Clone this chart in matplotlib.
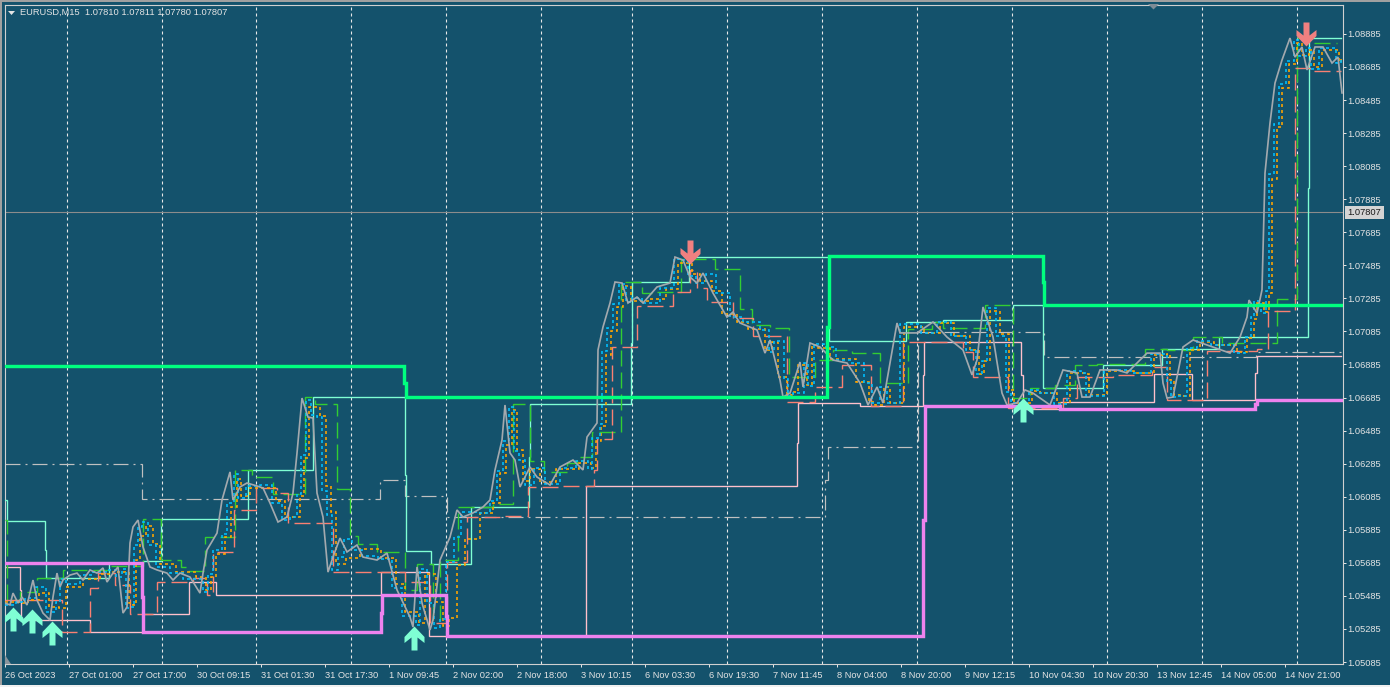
import matplotlib
matplotlib.use("Agg")
import matplotlib.pyplot as plt
from matplotlib.path import Path
from matplotlib.patches import Rectangle, Polygon

plt.rcParams['lines.scale_dashes'] = False
plt.rcParams['font.family'] = ['Liberation Sans', 'DejaVu Sans']

BG = '#14526C'
FG = '#E4E4E4'

time_labels = ['26 Oct 2023', '27 Oct 01:00', '27 Oct 17:00', '30 Oct 09:15', '31 Oct 01:30', '31 Oct 17:30',
               '1 Nov 09:45', '2 Nov 02:00', '2 Nov 18:00', '3 Nov 10:15', '6 Nov 03:30', '6 Nov 19:30',
               '7 Nov 11:45', '8 Nov 04:00', '8 Nov 20:00', '9 Nov 12:15', '10 Nov 04:30', '10 Nov 20:30',
               '13 Nov 12:45', '14 Nov 05:00', '14 Nov 21:00']
time_bars = [5, 69, 133, 197, 261, 325, 389, 453, 517, 581, 645, 709, 773, 837, 901, 965, 1029, 1093, 1157, 1221, 1285]
price_ticks = [1.08885, 1.08685, 1.08485, 1.08285, 1.08085, 1.07885, 1.07685, 1.07485, 1.07285, 1.07085,
               1.06885, 1.06685, 1.06485, 1.06285, 1.06085, 1.05885, 1.05685, 1.05485, 1.05285, 1.05085]
session_bars = [67, 162, 256, 351, 445.5, 540.5, 632, 727, 822, 917, 1012, 1107, 1202, 1297]
bid_price = 1.07807

close_x = [5, 10, 13, 18, 22, 27, 33, 37, 43, 50, 53, 57, 60, 63, 70, 77, 83, 90, 97, 103, 107, 113, 118, 123, 127,
           130, 133, 138, 143, 150, 157, 167, 173, 180, 190, 200, 203, 207, 217, 222, 230, 233, 240, 247, 257, 263,
           270, 278, 287, 293, 297, 302, 308, 313, 317, 323, 328, 333, 340, 347, 357, 363, 377, 387, 397, 410, 413,
           417, 422, 430, 433, 440, 450, 457, 463, 473, 483, 490, 495, 502, 505, 510, 515, 520, 530, 537, 550, 560,
           573, 583, 587, 597, 598, 603, 610, 615, 622, 628, 637, 643, 657, 670, 675, 683, 690, 697, 703, 713, 727,
           733, 740, 757, 765, 770, 780, 783, 790, 800, 803, 810, 820, 833, 847, 860, 868, 877, 883, 897, 900, 917,
           933, 947, 963, 972, 977, 983, 993, 1002, 1007, 1017, 1025, 1033, 1050, 1063, 1077, 1082, 1090, 1100, 1117,
           1127, 1147, 1160, 1163, 1167, 1173, 1183, 1193, 1207, 1230, 1240, 1247, 1249, 1257, 1262, 1265, 1270, 1275,
           1282, 1290, 1295, 1302, 1307, 1315, 1323, 1332, 1338, 1342]
close_y = [1.05442, 1.05430, 1.05502, 1.05442, 1.05478, 1.05430, 1.05581, 1.05460, 1.05381, 1.05339, 1.05478, 1.05623,
           1.05539, 1.05581, 1.05611, 1.05623, 1.05581, 1.05642, 1.05623, 1.05654, 1.05569, 1.05623, 1.05660, 1.05381,
           1.05418, 1.05805, 1.05902, 1.05944, 1.05781, 1.05660, 1.05642, 1.05623, 1.05581, 1.05623, 1.05599, 1.05502,
           1.05623, 1.05763, 1.05865, 1.06065, 1.06235, 1.06065, 1.06144, 1.06168, 1.06150, 1.06138, 1.06047, 1.05932,
           1.05962, 1.06107, 1.06349, 1.06682, 1.06567, 1.06561, 1.06107, 1.05962, 1.05629, 1.05720, 1.05835, 1.05751,
           1.05793, 1.05720, 1.05702, 1.05744, 1.05521, 1.05357, 1.05297, 1.05660, 1.05442, 1.05279, 1.05339, 1.05702,
           1.05841, 1.06005, 1.05962, 1.05987, 1.06023, 1.06065, 1.06247, 1.06428, 1.06640, 1.06350, 1.06307, 1.06144,
           1.06265, 1.06204, 1.06156, 1.06265, 1.06307, 1.06247, 1.06446, 1.06531, 1.06973, 1.07112, 1.07257, 1.07384,
           1.07378, 1.07257, 1.07293, 1.07257, 1.07354, 1.07378, 1.07535, 1.07517, 1.07414, 1.07378, 1.07438, 1.07317,
           1.07172, 1.07202, 1.07136, 1.07094, 1.06954, 1.07033, 1.06791, 1.06688, 1.06712, 1.06900, 1.06749, 1.07015,
           1.06991, 1.06912, 1.06894, 1.06773, 1.06640, 1.06749, 1.06652, 1.07136, 1.07076, 1.07076, 1.07142, 1.07051,
           1.06973, 1.06822, 1.06912, 1.07233, 1.07051, 1.06712, 1.06640, 1.06652, 1.06731, 1.06712, 1.06640, 1.06852,
           1.06834, 1.06688, 1.06688, 1.06852, 1.06852, 1.06834, 1.06954, 1.06954, 1.06773, 1.06682, 1.06688, 1.06991,
           1.07033, 1.07003, 1.06954, 1.07051, 1.07172, 1.07275, 1.07196, 1.07336, 1.08043, 1.08346, 1.08588, 1.08727,
           1.08860, 1.08745, 1.08806, 1.08667, 1.08806, 1.08806, 1.08709, 1.08745, 1.08528]

fast_x = [5, 16, 25, 36, 46, 56, 60, 66, 80, 93, 106, 116, 122, 126, 130, 134, 138, 142, 148, 156, 170, 183, 194, 203,
          208, 213, 222, 227, 234, 238, 246, 260, 272, 282, 290, 297, 301, 306, 311, 317, 322, 327, 332, 338, 344, 352,
          362, 378, 392, 402, 416, 420, 427, 434, 440, 446, 454, 461, 476, 490, 497, 503, 509, 514, 519, 525, 534, 545,
          560, 576, 588, 592, 600, 602, 607, 613, 619, 626, 632, 642, 660, 674, 679, 688, 696, 706, 716, 730, 743, 760,
          769, 774, 784, 788, 793, 804, 808, 814, 824, 836, 851, 864, 872, 880, 887, 900, 921, 937, 951, 966, 976, 982,
          987, 996, 1006, 1011, 1021, 1029, 1038, 1054, 1067, 1081, 1086, 1094, 1104, 1121, 1131, 1151, 1165, 1167, 1171,
          1177, 1187, 1197, 1211, 1234, 1245, 1251, 1254, 1261, 1266, 1269, 1274, 1279, 1286, 1294, 1299, 1306, 1311, 1319,
          1327, 1336, 1341]
fast_y = [1.05430, 1.05450, 1.05475, 1.05540, 1.05385, 1.05450, 1.05590, 1.05560, 1.05610, 1.05630, 1.05640, 1.05600, 1.05650,
          1.05410, 1.05420, 1.05790, 1.05900, 1.05930, 1.05790, 1.05660, 1.05625, 1.05590, 1.05590, 1.05510, 1.05620, 1.05760,
          1.05860, 1.06050, 1.06225, 1.06080, 1.06150, 1.06155, 1.06050, 1.05945, 1.05965, 1.06100, 1.06340, 1.06670, 1.06580,
          1.06570, 1.06120, 1.05975, 1.05640, 1.05720, 1.05830, 1.05765, 1.05725, 1.05710, 1.05535, 1.05365, 1.05310, 1.05650,
          1.05445, 1.05290, 1.05345, 1.05690, 1.05840, 1.05990, 1.05985, 1.06060, 1.06240, 1.06420, 1.06630, 1.06360, 1.06310,
          1.06155, 1.06260, 1.06165, 1.06260, 1.06300, 1.06250, 1.06440, 1.06525, 1.06965, 1.07105, 1.07250, 1.07375, 1.07265,
          1.07290, 1.07260, 1.07350, 1.07525, 1.07515, 1.07420, 1.07380, 1.07435, 1.07320, 1.07175, 1.07140, 1.07095, 1.06960,
          1.07030, 1.06795, 1.06695, 1.06715, 1.06895, 1.06755, 1.07010, 1.06990, 1.06915, 1.06895, 1.06775, 1.06650, 1.06750,
          1.06655, 1.07130, 1.07075, 1.07140, 1.07055, 1.06975, 1.06825, 1.06905, 1.07225, 1.07060, 1.06720, 1.06650, 1.06655,
          1.06730, 1.06715, 1.06645, 1.06845, 1.06835, 1.06695, 1.06695, 1.06850, 1.06850, 1.06835, 1.06950, 1.06950, 1.06780,
          1.06690, 1.06695, 1.06985, 1.07030, 1.07005, 1.06955, 1.07050, 1.07170, 1.07270, 1.07195, 1.07330, 1.08035, 1.08340,
          1.08580, 1.08720, 1.08850, 1.08750, 1.08800, 1.08675, 1.08800, 1.08800, 1.08710, 1.08740]

slow_x = [5, 19, 28, 39, 49, 59, 66, 83, 100, 113, 125, 129, 133, 136, 140, 146, 153, 160, 176, 196, 206, 211, 216, 225,
          231, 237, 241, 250, 266, 276, 285, 293, 300, 304, 309, 320, 326, 331, 336, 346, 360, 381, 396, 405, 419, 425,
          436, 443, 449, 457, 465, 480, 493, 500, 506, 512, 517, 523, 530, 540, 556, 579, 591, 596, 601, 606, 611, 617,
          623, 631, 650, 666, 678, 684, 692, 700, 712, 722, 737, 748, 765, 772, 778, 787, 792, 798, 807, 812, 818, 830,
          856, 869, 875, 884, 890, 904, 924, 940, 954, 970, 979, 984, 990, 1000, 1009, 1014, 1024, 1032, 1040, 1057, 1070,
          1084, 1089, 1097, 1107, 1124, 1134, 1154, 1167, 1170, 1174, 1180, 1190, 1200, 1214, 1237, 1247, 1254, 1257, 1264,
          1269, 1272, 1277, 1282, 1289, 1297, 1302, 1309, 1314, 1322, 1330, 1339, 1341]
slow_y = [1.05450, 1.05440, 1.05460, 1.05500, 1.05420, 1.05410, 1.05540, 1.05590, 1.05620, 1.05630, 1.05630, 1.05440, 1.05430,
          1.05700, 1.05850, 1.05910, 1.05800, 1.05680, 1.05630, 1.05600, 1.05520, 1.05600, 1.05740, 1.05840, 1.06020, 1.06190,
          1.06090, 1.06140, 1.06140, 1.06060, 1.05960, 1.05960, 1.06090, 1.06320, 1.06630, 1.06575, 1.06150, 1.05990, 1.05680,
          1.05715, 1.05770, 1.05715, 1.05560, 1.05390, 1.05320, 1.05620, 1.05450, 1.05300, 1.05350, 1.05670, 1.05830, 1.05985,
          1.06050, 1.06230, 1.06400, 1.06610, 1.06370, 1.06180, 1.06250, 1.06175, 1.06250, 1.06290, 1.06260, 1.06420, 1.06510,
          1.06940, 1.07090, 1.07230, 1.07360, 1.07270, 1.07280, 1.07340, 1.07500, 1.07500, 1.07430, 1.07390, 1.07330, 1.07190,
          1.07145, 1.07100, 1.06970, 1.07020, 1.06810, 1.06700, 1.06720, 1.06880, 1.06760, 1.07000, 1.06985, 1.06920, 1.06780,
          1.06660, 1.06640, 1.06749, 1.06652, 1.07110, 1.07075, 1.07135, 1.07060, 1.06975, 1.06830, 1.06905, 1.07210, 1.07070,
          1.06730, 1.06655, 1.06655, 1.06725, 1.06710, 1.06650, 1.06835, 1.06830, 1.06700, 1.06700, 1.06845, 1.06845, 1.06835,
          1.06945, 1.06950, 1.06790, 1.06700, 1.06695, 1.06975, 1.07020, 1.07005, 1.06960, 1.07045, 1.07160, 1.07260, 1.07200,
          1.07320, 1.08010, 1.08320, 1.08560, 1.08700, 1.08830, 1.08755, 1.08790, 1.08685, 1.08790, 1.08790, 1.08715, 1.08735]

upper_x = [5, 7, 20, 37, 63, 110, 143, 161, 181, 187, 205, 235, 252, 273, 305, 315, 337, 350, 358, 377, 405, 417, 433, 440,
           458, 493, 513, 530, 544, 567, 577, 592, 621, 642, 657, 681, 715, 740, 752, 770, 789, 815, 833, 852, 880, 908,
           932, 943, 985, 1013, 1030, 1055, 1075, 1097, 1145, 1167, 1193, 1222, 1277, 1297, 1313, 1337]
upper_y = [1.05944, 1.05460, 1.05508, 1.05593, 1.05642, 1.05666, 1.05950, 1.05702, 1.05660, 1.05636, 1.05841, 1.06247,
           1.06204, 1.06101, 1.06688, 1.06646, 1.06132, 1.05847, 1.05799, 1.05751, 1.05521, 1.05678, 1.05339, 1.05702,
           1.06023, 1.06041, 1.06646, 1.06301, 1.06235, 1.06289, 1.06325, 1.06476, 1.07384, 1.07317, 1.07323, 1.07523,
           1.07463, 1.07221, 1.07124, 1.07106, 1.06809, 1.06912, 1.06973, 1.06954, 1.06773, 1.07100, 1.07142, 1.07106,
           1.07245, 1.06682, 1.06743, 1.06761, 1.06882, 1.06888, 1.06979, 1.06973, 1.07051, 1.07015, 1.07281, 1.08860,
           1.08830, 1.08830]

lower_x = [5, 62, 90, 98, 115, 130, 157, 193, 207, 213, 234, 256, 277, 288, 333, 405, 430, 447, 467, 500, 528, 562, 594,
           597, 612, 637, 673, 690, 697, 707, 733, 753, 787, 815, 842, 871, 903, 963, 973, 1008, 1063, 1077, 1113, 1152,
           1167, 1207, 1257, 1268, 1295, 1310, 1341]
lower_y = [1.05460, 1.05267, 1.05533, 1.05623, 1.05551, 1.05375, 1.05569, 1.05593, 1.05490, 1.05751, 1.06005, 1.06138,
           1.06107, 1.05926, 1.05629, 1.05569, 1.05321, 1.05690, 1.05962, 1.05968, 1.06144, 1.06150, 1.06247, 1.06434,
           1.06991, 1.07239, 1.07323, 1.07457, 1.07348, 1.07263, 1.07166, 1.07057, 1.06658, 1.06749, 1.06882, 1.06634,
           1.07021, 1.06961, 1.06809, 1.06622, 1.06682, 1.06809, 1.06821, 1.06870, 1.06670, 1.06967, 1.06979, 1.07209,
           1.08679, 1.08661, 1.08661]

h1_high_x = [5, 7, 45, 46, 109, 143, 161, 248, 313, 405, 406, 431, 471, 529, 530, 631, 632, 689, 829, 906, 943, 1013,
             1043, 1103, 1162, 1219, 1308, 1309, 1341]
h1_high_y = [1.06065, 1.05938, 1.05763, 1.05593, 1.05684, 1.05696, 1.05950, 1.06247, 1.06688, 1.06216, 1.05757, 1.05678,
             1.06023, 1.06325, 1.06646, 1.07015, 1.07384, 1.07535, 1.07027, 1.07142, 1.07154, 1.07245, 1.06743, 1.06882,
             1.06979, 1.07051, 1.07953, 1.08860, 1.08860]

h1_low_x = [5, 20, 21, 90, 143, 189, 216, 381, 429, 586, 797, 798, 860, 923, 924, 1021, 1023, 1060, 1154, 1192, 1255, 1257, 1341]
h1_low_y = [1.05660, 1.05521, 1.05339, 1.05267, 1.05375, 1.05569, 1.05490, 1.05629, 1.05242, 1.06150, 1.06410, 1.06652,
            1.06634, 1.06821, 1.07021, 1.06821, 1.06616, 1.06658, 1.06827, 1.06670, 1.06833, 1.06936, 1.06936]

mid_x = [5, 142, 380, 405, 447, 825, 828, 918, 1044, 1256, 1341]
mid_y = [1.06280, 1.06071, 1.06186, 1.06089, 1.05962, 1.06186, 1.06386, 1.07082, 1.06930, 1.06960, 1.06960]

d1_high_x = [5, 404, 406, 827, 829, 1043, 1044, 1342]
d1_high_y = [1.06873, 1.06773, 1.06688, 1.07112, 1.07541, 1.07384, 1.07245, 1.07245]

d1_low_x = [5, 142, 143, 381, 382, 446, 447, 923, 925, 1060, 1255, 1257, 1342]
d1_low_y = [1.05684, 1.05478, 1.05267, 1.05381, 1.05490, 1.05363, 1.05242, 1.05944, 1.06634, 1.06616, 1.06646, 1.06670, 1.06670]

buy_x = [12.5, 32, 51.5, 414, 1023]
buy_y = [1.05418, 1.05406, 1.05333, 1.05303, 1.06682]
sell_x = [690, 1306]
sell_y = [1.07493, 1.08812]

W, H = 1390, 687
L, R, T, B = 4.5, 1342.5, 4.5, 664.0
fig = plt.figure(figsize=(W / 100, H / 100), dpi=100, facecolor=BG)
ax = fig.add_axes([L / W, 1 - B / H, (R - L) / W, (B - T) / H], facecolor=BG)
ax.set_xlim(L, R)
ax.set_ylim(1.05073, 1.09063)
px = 0.72

for x in session_bars:
    ax.axvline(x, color='#E8E8E8', lw=1.1 * px, dashes=(3.0 * px, 3.0 * px), zorder=1)
ax.axhline(bid_price, color='#8C8C8C', lw=1.1 * px, zorder=1)


def step(xs, ys, color, lw=1.35, dashes=None, z=2, style='steps-post'):
    line, = ax.plot(xs, ys, color=color, lw=lw * px, drawstyle=style, zorder=z,
                    solid_joinstyle='miter', dash_capstyle='butt', dash_joinstyle='miter')
    if dashes:
        line.set_dashes([d * px for d in dashes])


step(h1_low_x, h1_low_y, '#FFC0CB', z=2.5)
step(h1_high_x, h1_high_y, '#7FFFD4', z=2.6)
step(mid_x, mid_y, '#C0C0C0', lw=1.2, dashes=(15, 5, 2, 5), z=2)
step(upper_x, upper_y, '#32CD32', lw=1.4, dashes=(16, 6), z=3)
step(lower_x, lower_y, '#FA8072', lw=1.4, dashes=(16, 6), z=3)
step(slow_x, slow_y, '#FFA500', lw=1.6, dashes=(3, 3), z=4)
step(fast_x, fast_y, '#00BFFF', lw=1.6, dashes=(3, 3), z=4.2)
step(close_x, close_y, '#A3A9AE', lw=1.7, z=4.5, style='default')
step(d1_high_x, d1_high_y, '#00FF7F', lw=3.4, z=5)
step(d1_low_x, d1_low_y, '#EE82EE', lw=3.4, z=5)

# arrow markers, tip at the data point
up_arrow = Path([(0, 0), (10, -10.5), (10, -16.5), (3, -11), (3, -24), (-3, -24), (-3, -11), (-10, -16.5), (-10, -10.5), (0, 0)], closed=True)
down_arrow = Path([(0, 0), (10, 10.5), (10, 16.5), (3, 11), (3, 24), (-3, 24), (-3, 11), (-10, 16.5), (-10, 10.5), (0, 0)], closed=True)
ax.plot(buy_x, buy_y, ls='none', marker=up_arrow, ms=48 * px, mfc='#7FFFD4', mec='none', zorder=6)
ax.plot(sell_x, sell_y, ls='none', marker=down_arrow, ms=48 * px, mfc='#F08080', mec='none', zorder=6)

for s in ax.spines.values():
    s.set_color('#D0D0D0')
    s.set_linewidth(1.1 * px)
ax.yaxis.tick_right()
ax.set_yticks(price_ticks)
ax.set_yticklabels([f'{p:.5f}' for p in price_ticks])
ax.set_xticks(time_bars)
ax.set_xticklabels(time_labels, ha='left')
ax.tick_params(axis='both', length=3 * px, width=px, color=FG, labelcolor=FG, labelsize=6.7)
ax.tick_params(axis='y', pad=1.5)
ax.tick_params(axis='x', pad=3)

# header and widgets
fig.text(20 / W, 1 - 12.5 / H, 'EURUSD,M15  1.07810 1.07811 1.07780 1.07807', color=FG, fontsize=6.7, va='center', ha='left')
fig.text(1364 / W, 1 - 212.5 / H, f'{bid_price:.5f}', color='#1A1A1A', fontsize=6.7, va='center', ha='center', zorder=11)
fig.add_artist(Rectangle((1345 / W, 1 - 219 / H), 39 / W, 13 / H, transform=fig.transFigure, fc='#D4D4D4', ec='none', zorder=10))
fig.add_artist(Polygon([(8 / W, 1 - 11 / H), (15 / W, 1 - 11 / H), (11.5 / W, 1 - 15 / H)], closed=True, transform=fig.transFigure, fc=FG, ec='none'))
fig.add_artist(Polygon([(1148 / W, 1 - 4 / H), (1159 / W, 1 - 4 / H), (1153.5 / W, 1 - 9.5 / H)], closed=True, transform=fig.transFigure, fc='#7F8C96', ec='none', zorder=8))
fig.add_artist(Polygon([(5 / W, 1 - 655 / H), (5 / W, 1 - 664 / H), (11 / W, 1 - 664 / H)], closed=True, transform=fig.transFigure, fc='#8A949C', ec='none'))
# window frame
fig.add_artist(Rectangle((0, 1 - 1.5 / H), 1, 1.5 / H, transform=fig.transFigure, fc='#A0A0A0', ec='none'))
fig.add_artist(Rectangle((0, 0), 1.5 / W, 1, transform=fig.transFigure, fc='#A0A0A0', ec='none'))
fig.add_artist(Rectangle((0, 0), 1, 2 / H, transform=fig.transFigure, fc='#F0F0F0', ec='none'))

fig.savefig('out.png', dpi=100, facecolor=BG)
